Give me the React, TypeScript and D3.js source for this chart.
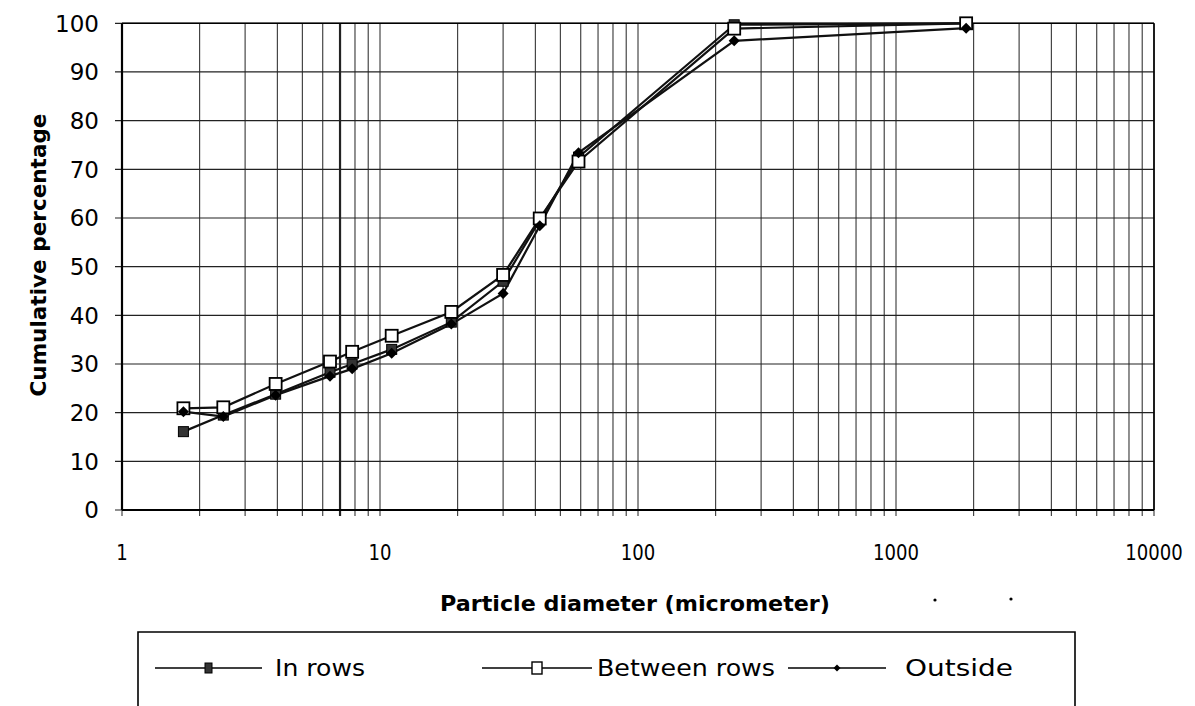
import React from "react";
import * as d3 from "d3";

const diameters = [1.73, 2.47, 3.94, 6.4, 7.8, 11.1, 18.9, 30, 41.6, 58.8, 236, 1870];
const inRows = [16.1, 19.5, 23.8, 28.3, 30, 33, 38.6, 47, 59.5, 72.5, 99.7, 100];
const betweenRows = [20.9, 21.1, 25.9, 30.5, 32.5, 35.8, 40.7, 48.3, 59.9, 71.6, 98.9, 100];
const outside = [20.2, 19.2, 23.6, 27.5, 29.0, 32.2, 38.2, 44.5, 58.4, 73.4, 96.4, 99.0];
const yTicks = [0, 10, 20, 30, 40, 50, 60, 70, 80, 90, 100];
const xTickLabels = ["1", "10", "100", "1000", "10000"];
const xTickValues = [1, 10, 100, 1000, 10000];
const seriesNames = ["In rows", "Between rows", "Outside"];

const W = 1195;
const H = 706;
const FONT = "'DejaVu Sans', 'Noto Sans', sans-serif";

export default function App() {
  const x = d3.scaleLog().domain([1, 10000]).range([122, 1154]);
  const y = d3.scaleLinear().domain([0, 100]).range([510, 23.3]);

  const minor: number[] = [];
  for (let p = 0; p < 4; p++) {
    for (let m = 1; m <= 9; m++) {
      minor.push(m * Math.pow(10, p));
    }
  }
  minor.push(10000);

  const line = d3
    .line<number>()
    .x((_, i) => x(diameters[i]))
    .y((v) => y(v));

  const col = "#111";

  const diamond = (cx: number, cy: number, r: number) =>
    `M${cx},${cy - r}L${cx + r},${cy}L${cx},${cy + r}L${cx - r},${cy}Z`;

  const legendY = 668;

  return (
    <svg
      width={W}
      height={H}
      style={{ position: "absolute", left: 0, top: 0, background: "#fff" }}
    >
      <rect x={0} y={0} width={W} height={H} fill="#fff" />
      {/* vertical grid */}
      {minor.map((v, i) => (
        <line
          key={"vx" + i}
          x1={x(v)}
          x2={x(v)}
          y1={y(100)}
          y2={y(0) + 6}
          stroke="#222"
          strokeWidth={v === 7 ? 2.2 : 1}
        />
      ))}
      {/* horizontal grid */}
      {yTicks.map((t) => (
        <line
          key={"hy" + t}
          x1={x(1) - 7}
          x2={x(10000)}
          y1={y(t)}
          y2={y(t)}
          stroke="#222"
          strokeWidth={1.2}
        />
      ))}
      {/* axes */}
      <line x1={x(1)} x2={x(1)} y1={y(100)} y2={y(0)} stroke="#000" strokeWidth={2.2} />
      <line x1={x(1)} x2={x(10000)} y1={y(0)} y2={y(0)} stroke="#000" strokeWidth={2} />
      <line x1={x(10000)} x2={x(10000)} y1={y(100)} y2={y(0)} stroke="#000" strokeWidth={1.6} />
      <line x1={x(1)} x2={x(10000)} y1={y(100)} y2={y(100)} stroke="#000" strokeWidth={1.6} />

      {/* y labels */}
      {yTicks.map((t) => (
        <text
          key={"yl" + t}
          x={99}
          y={y(t)}
          dy="0.36em"
          textAnchor="end"
          fontFamily={FONT}
          fontSize={23}
          fill="#000"
        >
          {t}
        </text>
      ))}
      {/* x labels */}
      {xTickValues.map((v, i) => (
        <text
          key={"xl" + i}
          x={x(v)}
          y={552}
          dy="0.36em"
          textAnchor="middle"
          fontFamily={FONT}
          fontSize={22}
          fill="#000"
          textLength={xTickLabels[i].length * 11.5}
          lengthAdjust="spacingAndGlyphs"
        >
          {xTickLabels[i]}
        </text>
      ))}
      {/* axis titles */}
      <text
        transform={`translate(38, 255) rotate(-90)`}
        textAnchor="middle"
        dy="0.36em"
        fontFamily={FONT}
        fontWeight="bold"
        fontSize={21}
        fill="#000"
        textLength={283}
        lengthAdjust="spacingAndGlyphs"
      >
        Cumulative percentage
      </text>
      <text
        x={635}
        y={603}
        dy="0.36em"
        textAnchor="middle"
        fontFamily={FONT}
        fontWeight="bold"
        fontSize={21}
        fill="#000"
        textLength={390}
        lengthAdjust="spacingAndGlyphs"
      >
        Particle diameter (micrometer)
      </text>
      <circle cx={935} cy={600} r={1.6} fill="#000" />
      <circle cx={1011} cy={599} r={1.6} fill="#000" />

      {/* series lines */}
      <path d={line(inRows) || ""} fill="none" stroke={col} strokeWidth={2.2} />
      <path d={line(betweenRows) || ""} fill="none" stroke={col} strokeWidth={2.2} />
      <path d={line(outside) || ""} fill="none" stroke={col} strokeWidth={2.2} />

      {/* markers */}
      {inRows.map((v, i) => (
        <rect
          key={"mi" + i}
          x={x(diameters[i]) - 5}
          y={y(v) - 5}
          width={10}
          height={10}
          fill="#333"
          stroke="#000"
          strokeWidth={1}
        />
      ))}
      {betweenRows.map((v, i) => (
        <rect
          key={"mb" + i}
          x={x(diameters[i]) - 6}
          y={y(v) - 6}
          width={12}
          height={12}
          fill="#fff"
          stroke="#000"
          strokeWidth={1.8}
        />
      ))}
      {outside.map((v, i) => (
        <path key={"mo" + i} d={diamond(x(diameters[i]), y(v), 5.5)} fill="#000" />
      ))}

      {/* legend */}
      <path
        d={`M138,${H + 5}V632H1075V${H + 5}`}
        fill="none"
        stroke="#000"
        strokeWidth={1.6}
      />
      <line x1={155} x2={262} y1={legendY} y2={legendY} stroke="#000" strokeWidth={1.5} />
      <rect x={205} y={legendY - 5} width={7} height={10} fill="#333" stroke="#000" strokeWidth={1} />
      <text
        x={275}
        y={legendY}
        dy="0.36em"
        fontFamily={FONT}
        fontSize={23}
        fill="#000"
        textLength={90}
        lengthAdjust="spacingAndGlyphs"
      >
        {seriesNames[0]}
      </text>
      <line x1={482} x2={592} y1={legendY} y2={legendY} stroke="#000" strokeWidth={1.5} />
      <rect x={532} y={legendY - 6} width={10} height={12} fill="#fff" stroke="#000" strokeWidth={1.4} />
      <text
        x={597}
        y={legendY}
        dy="0.36em"
        fontFamily={FONT}
        fontSize={23}
        fill="#000"
        textLength={178}
        lengthAdjust="spacingAndGlyphs"
      >
        {seriesNames[1]}
      </text>
      <line x1={788} x2={886} y1={legendY} y2={legendY} stroke="#000" strokeWidth={1.5} />
      <path d={diamond(837, legendY, 3.5)} fill="#000" />
      <text
        x={905}
        y={legendY}
        dy="0.36em"
        fontFamily={FONT}
        fontSize={23}
        fill="#000"
        textLength={108}
        lengthAdjust="spacingAndGlyphs"
      >
        {seriesNames[2]}
      </text>
    </svg>
  );
}
